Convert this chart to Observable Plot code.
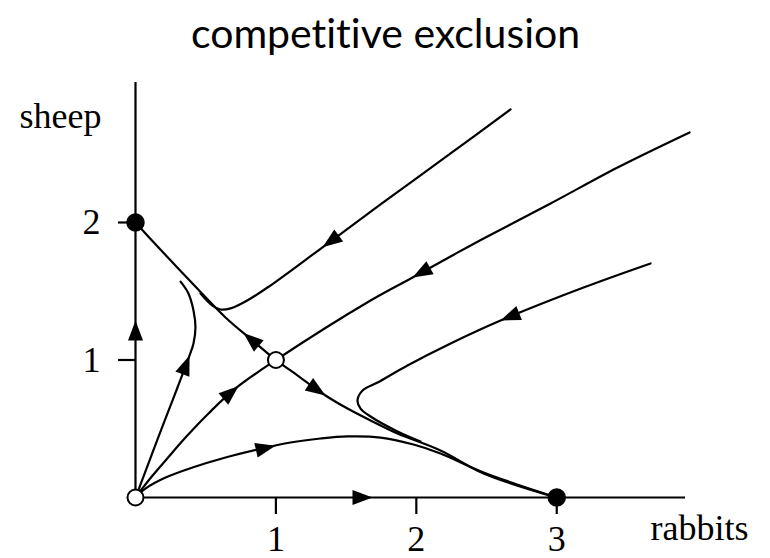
<!DOCTYPE html>
<html>
<head>
<meta charset="utf-8">
<script src="https://cdn.jsdelivr.net/npm/d3@7"></script>
<script src="https://cdn.jsdelivr.net/npm/@observablehq/plot@0.6"></script>
<style>
  html, body { margin: 0; padding: 0; background: #fff; }
  #chart svg { display: block; }
  #chart text { font-variant-ligatures: none; }
</style>
</head>
<body>
<div id="chart"></div>
<script>
// Phase plane of the rabbits-vs-sheep competition model.
const rabbitTicks = [1, 2, 3];
const sheepTicks = [1, 2];

// Fixed points
const stableNodes = [[0, 2], [3, 0]];
const unstablePoints = [[0, 0], [1, 1]];

// Unstable manifold of the saddle, from (0,2) through (1,1) to (3,0)
const unstableManifold = [
  [0, 2], [0.164, 1.818], [0.406, 1.556], [0.641, 1.309], [0.833, 1.142],
  [1, 1], [1.104, 0.924], [1.353, 0.742], [1.510, 0.647], [1.674, 0.560],
  [1.866, 0.465], [2.172, 0.342], [2.479, 0.175], [3, 0]
];

// Stable manifold of the saddle (separatrix), from the origin out to the upper right
const stableManifold = [
  [0, 0], [0.093, 0.124], [0.214, 0.269], [0.356, 0.436], [0.520, 0.611],
  [0.712, 0.793], [1, 1], [1.674, 1.433], [1.973, 1.600], [2.244, 1.753],
  [2.479, 1.884], [2.956, 2.138], [3.433, 2.400], [3.946, 2.655]
];

// Trajectory coming in from the top, bending onto the manifold toward (0,2)
const topOrbit = [
  [2.671, 2.822], [2.244, 2.502], [1.745, 2.131], [1.339, 1.825], [0.940, 1.527],
  [0.783, 1.425], [0.677, 1.375], [0.605, 1.367], [0.548, 1.396], [0.463, 1.484]
];

// Trajectory leaving the origin steeply, bending back toward the manifold
const leftOrbit = [
  [0, 0], [0.036, 0.095], [0.121, 0.327], [0.214, 0.575], [0.299, 0.800],
  [0.385, 1.033], [0.413, 1.120], [0.427, 1.236], [0.413, 1.360], [0.377, 1.484],
  [0.321, 1.570]
];

// Trajectory coming in from the right, turning onto the manifold toward (3,0)
const rightOrbit = [
  [3.668, 1.702], [3.191, 1.527], [2.600, 1.287], [2.244, 1.120], [1.937, 0.960],
  [1.724, 0.836], [1.617, 0.778], [1.581, 0.705], [1.603, 0.647], [1.674, 0.589],
  [1.866, 0.480], [2.030, 0.407]
];

// Low trajectory from the origin to (3,0)
const bottomOrbit = [
  [0, 0], [0.071, 0.065], [0.214, 0.145], [0.406, 0.218], [0.641, 0.291],
  [0.869, 0.349], [1.104, 0.400], [1.318, 0.429], [1.510, 0.444], [1.745, 0.436],
  [1.980, 0.385], [2.172, 0.320], [2.479, 0.182], [3, 0]
];

// Arrowheads: tip position and heading (degrees clockwise from straight up)
const arrowheads = [
  [0, 1.287, 0],          // along the sheep axis
  [1.688, 0, 90],         // along the rabbits axis
  [0.385, 1.033, 21],     // left orbit
  [0.735, 0.810, 50],     // stable manifold, lower branch
  [0.997, 0.376, 77],     // bottom orbit
  [0.769, 1.196, -50],    // unstable manifold toward (0,2)
  [1.353, 0.742, 124],    // unstable manifold toward (3,0)
  [1.332, 1.820, -126],   // top orbit
  [1.973, 1.600, -119],   // stable manifold, upper branch
  [2.600, 1.287, -112]    // right orbit
];

// Filled triangular arrowhead with its tip at the symbol origin
const arrowHead = {
  draw(context) {
    context.moveTo(0, 0);
    context.lineTo(7.5, 20);
    context.lineTo(-7.5, 20);
    context.closePath();
  }
};

const serif = "'Liberation Serif', 'Times New Roman', serif";
const orbit = {curve: "catmull-rom", stroke: "black", strokeWidth: 2.2};

const chart = Plot.plot({
  width: 770,
  height: 558,
  marginLeft: 135,
  marginRight: 85,
  marginTop: 82,
  marginBottom: 61,
  x: {domain: [0, 3.917]},
  y: {domain: [0, 3.018]},
  style: {background: "white", color: "black", fontFamily: serif, fontSize: "36px", overflow: "visible"},
  marks: [
    // axes (also trajectories along the axes)
    Plot.ruleY([0], {stroke: "black", strokeWidth: 2.2}),
    Plot.ruleX([0], {stroke: "black", strokeWidth: 2.2}),
    Plot.axisX({ticks: rabbitTicks, tickFormat: (d) => String(d), tickSize: 17, tickPadding: 11, strokeWidth: 2.2, fontSize: 36, fontFamily: serif, label: null}),
    Plot.axisY({ticks: sheepTicks, tickFormat: (d) => String(d), tickSize: 17, tickPadding: 18, strokeWidth: 2.2, fontSize: 36, fontFamily: serif, label: null}),

    // trajectories
    Plot.line(unstableManifold, orbit),
    Plot.line(stableManifold, orbit),
    Plot.line(topOrbit, orbit),
    Plot.line(leftOrbit, orbit),
    Plot.line(rightOrbit, orbit),
    Plot.line(bottomOrbit, orbit),

    // direction of flow
    Plot.dot(arrowheads, {
      x: (d) => d[0], y: (d) => d[1], rotate: (d) => d[2],
      symbol: arrowHead, fill: "black", stroke: "none"
    }),

    // fixed points
    Plot.dot(stableNodes, {r: 8.5, fill: "black", stroke: "black"}),
    Plot.dot(unstablePoints, {r: 8, fill: "white", stroke: "black", strokeWidth: 2}),

    // axis names
    Plot.text(["sheep"], {text: (d) => d, frameAnchor: "top-left", textAnchor: "middle", lineAnchor: "middle", dx: -75, dy: 34, fontFamily: serif, fontSize: 36}),
    Plot.text(["rabbits"], {text: (d) => d, frameAnchor: "bottom-right", textAnchor: "start", lineAnchor: "middle", dx: -35, dy: 31, fontFamily: serif, fontSize: 36}),

    // title
    Plot.text(["competitive exclusion"], {
      text: (d) => d, frameAnchor: "top", textAnchor: "middle", lineAnchor: "middle", dx: -25, dy: -48,
      fontFamily: "Lato, 'Open Sans', sans-serif", fontSize: 41
    })
  ]
});

document.getElementById("chart").append(chart);
</script>
</body>
</html>
